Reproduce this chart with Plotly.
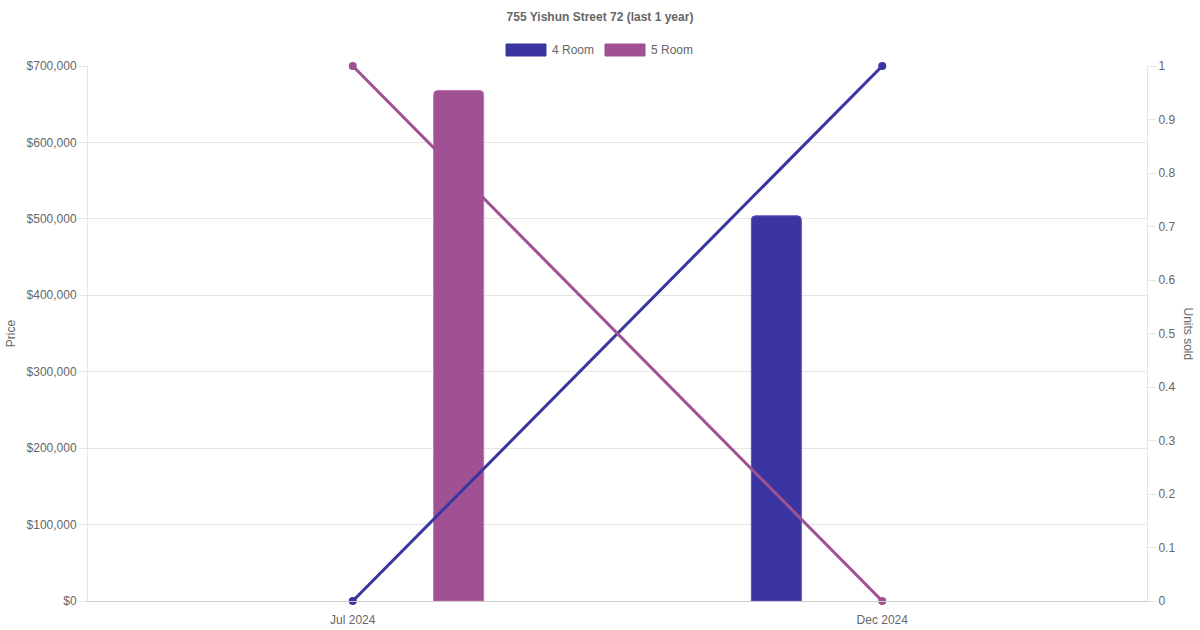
import plotly.graph_objects as go

months = ["Jul 2024", "Dec 2024"]
price_4room = [None, 504000]
price_5room = [668000, None]
units_4room = [0, 1]
units_5room = [1, 0]
price_ticks = [0, 100000, 200000, 300000, 400000, 500000, 600000, 700000]
unit_ticks = [0, 0.1, 0.2, 0.3, 0.4, 0.5, 0.6, 0.7, 0.8, 0.9, 1]
unit_labels = ["0", "0.1", "0.2", "0.3", "0.4", "0.5", "0.6", "0.7", "0.8", "0.9", "1"]

C4 = "#3a35a0"
C5 = "#a05193"
TXT = "#666666"
FONT = "Liberation Sans, Arial, sans-serif"

bar_w = 50 / 529.5
fig = go.Figure()
fig.add_trace(go.Bar(x=months, y=price_4room, name="4 Room", marker=dict(color=C4, line=dict(color="#5a55c0", width=1)),
                     width=bar_w, offset=-0.2 - bar_w / 2, showlegend=False))
fig.add_trace(go.Bar(x=months, y=price_5room, name="5 Room", marker=dict(color=C5, line=dict(color="#c071b3", width=1)),
                     width=bar_w, offset=0.2 - bar_w / 2, showlegend=False))
fig.add_trace(go.Scatter(x=months, y=units_4room, yaxis="y2", mode="lines+markers", name="4 Room units",
                         line=dict(color=C4, width=3), marker=dict(size=8, color=C4), showlegend=False, cliponaxis=False))
fig.add_trace(go.Scatter(x=months, y=units_5room, yaxis="y2", mode="lines+markers", name="5 Room units",
                         line=dict(color=C5, width=3), marker=dict(size=8, color=C5), showlegend=False, cliponaxis=False))

fig.update_layout(
    width=1200, height=630,
    margin=dict(l=88, r=53, t=66, b=29),
    paper_bgcolor="white", plot_bgcolor="white",
    barmode="overlay",
    barcornerradius=4,
    font=dict(family=FONT, size=12, color=TXT),
    showlegend=False,
    title=dict(text="<b>755 Yishun Street 72 (last 1 year)</b>", x=0.5, xanchor="center", y=1 - 17 / 630, yanchor="middle",
               font=dict(family=FONT, size=12, color=TXT)),
    xaxis=dict(type="category", categoryorder="array", categoryarray=months, range=[-0.5, 1.5], automargin=False,
               showgrid=False, showline=True, linecolor="#cccccc", linewidth=1, ticks="", ticklen=0,
               ticklabelstandoff=8, tickfont=dict(size=12, color=TXT)),
    yaxis=dict(range=[0, 700000], tickvals=price_ticks, tickformat="$,.0f", showgrid=True, gridcolor="#e5e5e5",
               zeroline=False, showline=True, linecolor="#e5e5e5", ticks="outside", ticklen=8, tickcolor="#e5e5e5",
               automargin=False, title=dict(text="Price", standoff=8, font=dict(size=12, color=TXT))),
    yaxis2=dict(range=[0, 1], tickvals=unit_ticks, ticktext=unit_labels, overlaying="y", side="right", showgrid=False,
                zeroline=False, showline=True, linecolor="#e5e5e5", ticks="outside", ticklen=8, tickcolor="#e5e5e5",
                automargin=False),
)

fig.add_annotation(text="Units sold", xref="paper", yref="paper", x=(1188 - 88) / 1059, y=0.5, textangle=90,
                   showarrow=False, font=dict(size=12, color=TXT), xanchor="center", yanchor="middle")

# legend drawn manually (Chart.js style wide swatches)
legend_items = [("4 Room", C4, 506), ("5 Room", C5, 605)]
for label, color, x0 in legend_items:
    fig.add_shape(type="rect", xref="paper", yref="paper",
                  x0=(x0 - 88) / 1059, x1=(x0 + 40 - 88) / 1059,
                  y0=(601 - 56) / 535, y1=(601 - 44) / 535,
                  fillcolor=color, line=dict(color=color, width=1))
    fig.add_annotation(text=label, xref="paper", yref="paper", x=(x0 + 44 - 88) / 1059, y=(601 - 50) / 535,
                       xanchor="left", yanchor="middle", showarrow=False, font=dict(size=12, color=TXT))

fig.write_html("out.html", config={"displayModeBar": False},
               post_script="document.body.style.margin='0';")
